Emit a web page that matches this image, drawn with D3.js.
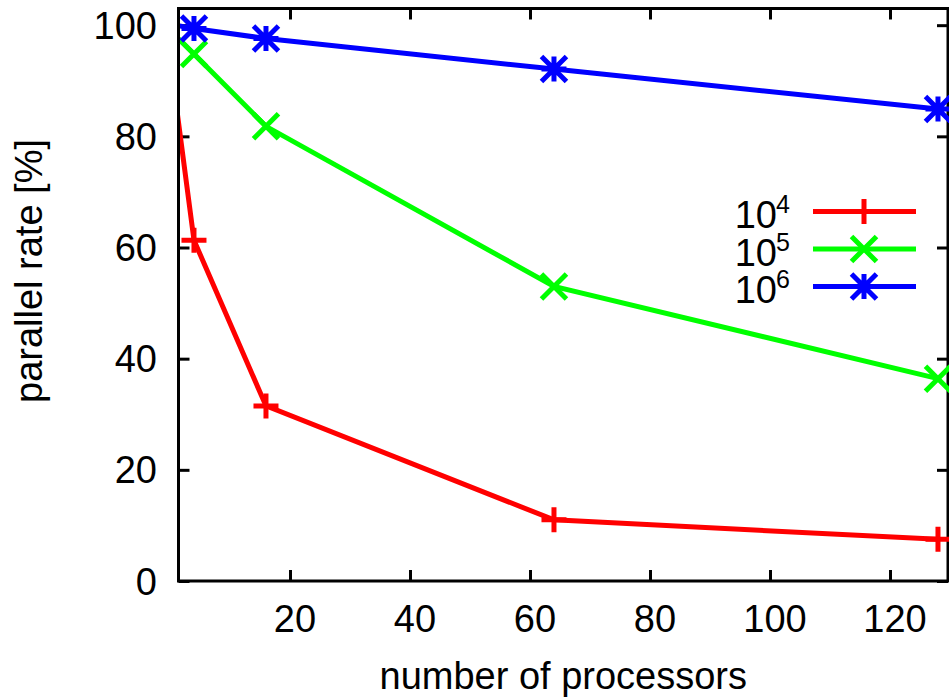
<!DOCTYPE html>
<html>
<head>
<meta charset="utf-8">
<script src="https://cdn.jsdelivr.net/npm/d3@7"></script>
<style>
  html, body { margin: 0; padding: 0; background: #fff; }
  svg { display: block; }
  text { font-family: 'Liberation Sans', Arial, Helvetica, sans-serif; fill: #000; }
</style>
</head>
<body>
<div id="chart"></div>
<script>
// data
const procs = [1, 4, 16, 64, 128];
const rate1e4 = [86, 61.3, 31.5, 11.0, 7.5];
const rate1e5 = [98, 94.8, 81.8, 53.0, 36.4];
const rate1e6 = [100, 99.4, 97.6, 92.1, 84.9];

const seriesNames = ['4', '5', '6'];   // exponents of 10
const seriesColors = ['#ff0000', '#00ff00', '#0000ff'];
const seriesMarks = ['plus', 'cross', 'star'];

const xTicks = [20, 40, 60, 80, 100, 120];
const yTicks = [0, 20, 40, 60, 80, 100];

const width = 949,
  height = 700;

const plot = {
  left: 178.5,
  right: 948,
  top: 8.5,
  bottom: 581
};

const fontSize = 38;

const svg = d3.select('#chart')
  .append('svg')
  .attr('width', width)
  .attr('height', height);

const x = d3.scaleLinear()
  .domain([1.42, 129.67])
  .range([plot.left, plot.right]);

const y = d3.scaleLinear()
  .domain([0, 103])
  .range([plot.bottom, plot.top]);

//clip just inside the border, like gnuplot does
svg.append('defs')
  .append('clipPath')
  .attr('id', 'plotClip')
  .append('rect')
  .attr('x', plot.left + 1.5)
  .attr('y', plot.top)
  .attr('width', plot.right - plot.left)
  .attr('height', plot.bottom - plot.top);

//ticks point inward, mirrored on all four sides
const tickLen = 11;

function styleTicks(g) {
  g.select('.domain').remove();
  g.selectAll('line').attr('stroke', '#000').attr('stroke-width', 3);
}

svg.append('g')
  .attr('transform', 'translate(0,' + plot.bottom + ')')
  .call(d3.axisBottom(x).tickValues(xTicks).tickSizeInner(-tickLen).tickSizeOuter(0).tickFormat(''))
  .call(styleTicks);

svg.append('g')
  .attr('transform', 'translate(0,' + plot.top + ')')
  .call(d3.axisTop(x).tickValues(xTicks).tickSizeInner(-tickLen).tickSizeOuter(0).tickFormat(''))
  .call(styleTicks);

svg.append('g')
  .attr('transform', 'translate(' + plot.left + ',0)')
  .call(d3.axisLeft(y).tickValues(yTicks).tickSizeInner(-tickLen).tickSizeOuter(0).tickFormat(''))
  .call(styleTicks);

svg.append('g')
  .attr('transform', 'translate(' + plot.right + ',0)')
  .call(d3.axisRight(y).tickValues(yTicks).tickSizeInner(-tickLen).tickSizeOuter(0).tickFormat(''))
  .call(styleTicks);

//tick labels
svg.append('g')
  .selectAll('.xLabel')
  .data(xTicks)
  .enter().append('text')
  .attr('class', 'xLabel')
  .attr('x', function (d) { return x(d) + 5; })
  .attr('y', 632)
  .attr('text-anchor', 'middle')
  .style('font-size', fontSize + 'px')
  .text(function (d) { return d; });

svg.append('g')
  .selectAll('.yLabel')
  .data(yTicks)
  .enter().append('text')
  .attr('class', 'yLabel')
  .attr('x', 157)
  .attr('y', function (d) { return y(d) + 13.5; })
  .attr('text-anchor', 'end')
  .style('font-size', fontSize + 'px')
  .text(function (d) { return d; });

//axis titles
svg.append('text')
  .attr('x', (plot.left + plot.right) / 2)
  .attr('y', 689)
  .attr('text-anchor', 'middle')
  .style('font-size', fontSize + 'px')
  .text('number of processors');

svg.append('text')
  .attr('transform', 'translate(42,271) rotate(-90)')
  .attr('text-anchor', 'middle')
  .style('font-size', fontSize + 'px')
  .text('parallel rate [%]');

//series
const series = [rate1e4, rate1e5, rate1e6].map(function (vals, i) {
  return {
    name: seriesNames[i],
    color: seriesColors[i],
    mark: seriesMarks[i],
    points: procs.map(function (p, j) { return { x: p, y: vals[j] }; })
  };
});

const line = d3.line()
  .x(function (d) { return x(d.x); })
  .y(function (d) { return y(d.y); });

const lineGroup = svg.append('g')
  .attr('clip-path', 'url(#plotClip)');

lineGroup.selectAll('.seriesLine')
  .data(series)
  .enter().append('path')
  .attr('class', 'seriesLine')
  .attr('d', function (d) { return line(d.points); })
  .attr('fill', 'none')
  .attr('stroke', function (d) { return d.color; })
  .attr('stroke-width', 5);

//gnuplot point shapes
function markPath(type, r) {
  const plus = 'M' + (-r) + ',0H' + r + 'M0,' + (-r) + 'V' + r;
  const cross = 'M' + (-r) + ',' + (-r) + 'L' + r + ',' + r + 'M' + (-r) + ',' + r + 'L' + r + ',' + (-r);
  if (type === 'plus') return plus;
  if (type === 'cross') return cross;
  return plus + cross;
}

//border
svg.append('rect')
  .attr('x', plot.left)
  .attr('y', plot.top)
  .attr('width', plot.right - plot.left)
  .attr('height', plot.bottom - plot.top)
  .attr('fill', 'none')
  .attr('stroke', '#000')
  .attr('stroke-width', 3);

//points outside the x range are not drawn
const markGroup = svg.append('g');

series.forEach(function (s) {
  markGroup.selectAll('.mark' + s.name)
    .data(s.points.filter(function (p) { return p.x >= x.domain()[0]; }))
    .enter().append('path')
    .attr('class', 'mark' + s.name)
    .attr('transform', function (d) { return 'translate(' + x(d.x) + ',' + y(d.y) + ')'; })
    .attr('d', markPath(s.mark, 12.5))
    .attr('fill', 'none')
    .attr('stroke', s.color)
    .attr('stroke-width', 5);
});

//legend
const legend = svg.append('g')
  .selectAll('.legendRow')
  .data(series)
  .enter().append('g')
  .attr('class', 'legendRow')
  .attr('transform', function (d, i) { return 'translate(0,' + (211.5 + i * 37.5) + ')'; });

legend.append('text')
  .attr('x', 777)
  .attr('y', 16.5)
  .attr('text-anchor', 'end')
  .style('font-size', fontSize + 'px')
  .text('10');

legend.append('text')
  .attr('x', 776)
  .attr('y', 1.5)
  .style('font-size', '25px')
  .text(function (d) { return d.name; });

legend.append('line')
  .attr('x1', 813)
  .attr('x2', 916)
  .attr('stroke', function (d) { return d.color; })
  .attr('stroke-width', 5);

legend.append('path')
  .attr('transform', 'translate(864,0)')
  .attr('d', function (d) { return markPath(d.mark, 12.5); })
  .attr('fill', 'none')
  .attr('stroke', function (d) { return d.color; })
  .attr('stroke-width', 5);
</script>
</body>
</html>
